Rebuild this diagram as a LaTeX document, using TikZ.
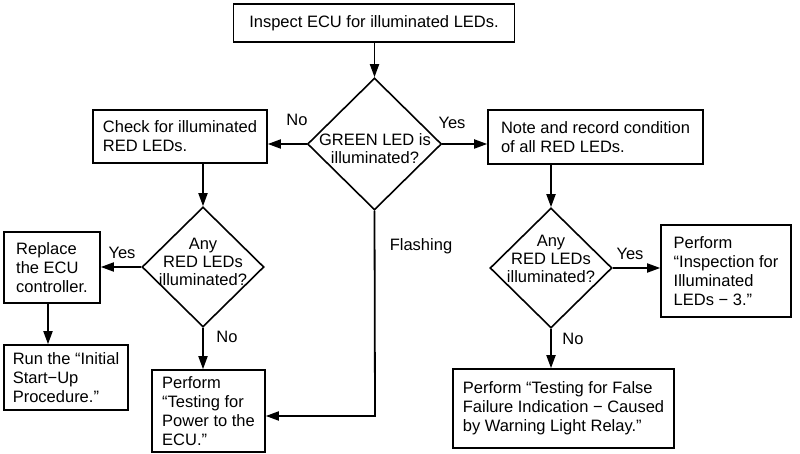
\documentclass[tikz,border=0pt]{standalone}
\usepackage{fontspec}
\setmainfont{Liberation Sans}
\usetikzlibrary{shapes.geometric,arrows.meta,calc}

\begin{document}
\begin{tikzpicture}[
    x=1pt, y=-1pt,
    font=\fontsize{16.5}{19}\selectfont,
    box/.style={draw, rectangle, line width=1.6pt, align=left, inner sep=0pt},
    decision/.style={draw, diamond, line width=1.6pt, inner sep=0pt},
    dtext/.style={align=center, inner sep=0pt, font=\fontsize{16.5}{18}\selectfont},
    arrow/.style={-{Triangle[length=13pt, width=9pt]}, line width=1.8pt},
    lbl/.style={inner sep=0pt}
]
    \useasboundingbox (0,0) rectangle (800,454);

    % boxes
    \node[box, minimum width=281pt, minimum height=38pt] (inspect) at (374,23) {Inspect ECU for illuminated LEDs.};
    \node[box, minimum width=174pt, minimum height=53pt] (checkred) at (180,136.5) {Check for illuminated\\RED LEDs.};
    \node[box, minimum width=215pt, minimum height=54pt] (noterec) at (595.5,137) {Note and record condition\\of all RED LEDs.};
    \node[box, minimum width=96pt, minimum height=71pt] (replace) at (52,267.5) {Replace\\the ECU\\controller.};
    \node[box, minimum width=124pt, minimum height=65pt] (startup) at (66,377.5) {Run the ``Initial\\Start−Up\\Procedure.''};
    \node[box, minimum width=113pt, minimum height=82pt] (powertest) at (208.5,411) {Perform\\``Testing for\\Power to the\\ECU.''};
    \node[box, minimum width=130pt, minimum height=92pt] (inspect3) at (726,271) {Perform\\``Inspection for\\Illuminated\\LEDs − 3.''};
    \node[box, minimum width=221pt, minimum height=79pt] (falsetest) at (563.5,408.5) {Perform ``Testing for False\\Failure Indication − Caused\\by Warning Light Relay.''};

    % decisions
    \node[decision, minimum width=134pt, minimum height=132pt] (green) at (374.5,144) {};
    \node[dtext] at (375,149) {GREEN LED is\\illuminated?};
    \node[decision, minimum width=122pt, minimum height=120pt] (anyredL) at (203,267) {};
    \node[dtext] at (203,262) {Any\\RED LEDs\\illuminated?};
    \node[decision, minimum width=122pt, minimum height=120pt] (anyredR) at (551,268) {};
    \node[dtext] at (551,259) {Any\\RED LEDs\\illuminated?};

    \coordinate (flash) at (375,416);

    % connectors
    \draw[arrow] (inspect.south -| green.north) -- (green.north);
    \draw[arrow] (green.west) -- (checkred.east |- green.west);
    \draw[arrow] (green.east) -- (noterec.west |- green.east);
    \draw[arrow] (anyredL.north |- checkred.south) -- (anyredL.north);
    \draw[arrow] (anyredR.north |- noterec.south) -- (anyredR.north);
    \draw[arrow] (anyredL.west) -- (replace.east |- anyredL.west);
    \draw[arrow] (replace.south -| 48,0) -- (startup.north -| 48,0);
    \draw[arrow] (anyredL.south) -- (anyredL.south |- powertest.north);
    \draw[arrow] (green.south) -- (flash) -- (flash -| powertest.east);
    \draw[arrow] (anyredR.east) -- (inspect3.west |- anyredR.east);
    \draw[arrow] (anyredR.south) -- (anyredR.south |- falsetest.north);

    % labels
    \node[lbl] at (297,120) {No};
    \node[lbl] at (452,123) {Yes};
    \node[lbl] at (122,253) {Yes};
    \node[lbl] at (227,337) {No};
    \node[lbl] at (421,246) {Flashing};
    \node[lbl] at (630,254) {Yes};
    \node[lbl] at (573,339) {No};
\end{tikzpicture}
\end{document}
